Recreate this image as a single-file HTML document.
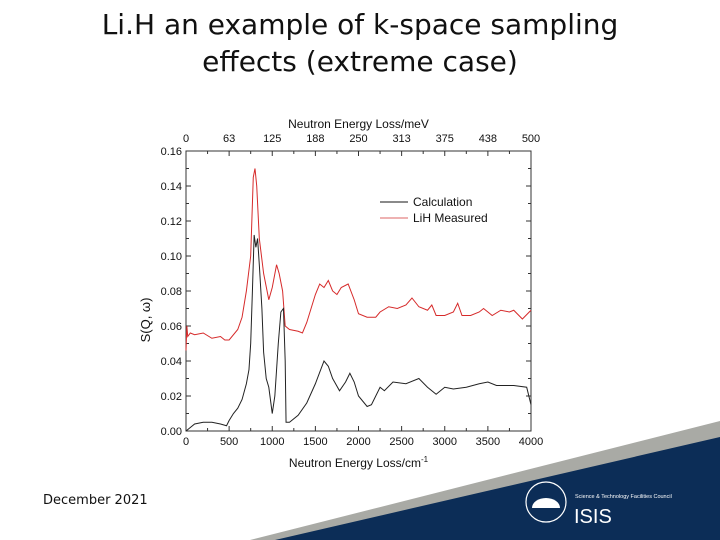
<!DOCTYPE html>
<html><head><meta charset="utf-8"><style>
body{margin:0;width:720px;height:540px;overflow:hidden;background:#fff;font-family:"Liberation Sans",sans-serif;position:relative}
#title{position:absolute;left:0;top:6px;width:720px;text-align:center;font-family:"DejaVu Sans",sans-serif;font-size:28px;line-height:37px;color:#111}
#date{position:absolute;left:43px;top:493px;font-family:"DejaVu Sans",sans-serif;font-size:13px;color:#111}
svg{position:absolute;left:0;top:0}
</style></head><body>
<div id="title">Li.H an example of k-space sampling<br>effects (extreme case)</div>
<div id="date">December 2021</div>
<svg id="chart" width="720" height="540">
<polygon points="250,540 720,421 720,540" fill="#a9aaa5"/>
<polygon points="275,540 720,437 720,540" fill="#0c2d57"/>
<g>
<circle cx="546" cy="502" r="20" fill="none" stroke="#fff" stroke-width="1.2"/>
<path d="M532,508 A14,10 0 0 1 560,508 Z" fill="#fff"/>
<text x="575" y="498" font-size="5.5" fill="#fff">Science &amp; Technology Facilities Council</text>
<text x="574" y="523" font-size="20" fill="#fff">ISIS</text>
</g>
</svg>
<script>
const calcX=[0,50,100,200,300,400,470,500,550,600,650,700,730,750,770,790,810,830,850,880,900,930,960,1000,1030,1070,1100,1130,1150,1160,1200,1300,1400,1500,1600,1650,1700,1780,1850,1900,1950,2000,2100,2150,2250,2300,2400,2550,2700,2800,2900,3000,3100,3250,3400,3500,3600,3700,3800,3950,4000];
const calcY=[0,0.002,0.004,0.005,0.005,0.004,0.003,0.006,0.01,0.013,0.018,0.027,0.035,0.05,0.08,0.112,0.105,0.11,0.095,0.07,0.045,0.03,0.025,0.01,0.02,0.05,0.068,0.07,0.04,0.005,0.005,0.009,0.016,0.027,0.04,0.037,0.03,0.023,0.028,0.033,0.028,0.02,0.014,0.015,0.025,0.023,0.028,0.027,0.03,0.025,0.021,0.025,0.024,0.025,0.027,0.028,0.026,0.026,0.026,0.025,0.015];
const measX=[0,10,20,50,100,200,300,400,450,500,600,650,700,750,780,800,820,850,900,960,1000,1050,1080,1120,1150,1200,1300,1350,1400,1500,1550,1600,1650,1700,1750,1800,1880,1950,2000,2100,2200,2250,2350,2450,2550,2620,2700,2800,2850,2900,3000,3100,3150,3200,3300,3400,3450,3550,3650,3750,3800,3900,4000];
const measY=[0.046,0.06,0.054,0.056,0.055,0.056,0.053,0.054,0.052,0.052,0.058,0.065,0.08,0.1,0.145,0.15,0.14,0.11,0.09,0.075,0.082,0.095,0.09,0.08,0.06,0.058,0.057,0.056,0.062,0.078,0.084,0.082,0.086,0.08,0.078,0.082,0.084,0.075,0.067,0.065,0.065,0.068,0.071,0.07,0.072,0.076,0.071,0.069,0.072,0.066,0.066,0.068,0.073,0.066,0.066,0.068,0.07,0.066,0.069,0.068,0.069,0.064,0.069];
const bottomTicks=[0,500,1000,1500,2000,2500,3000,3500,4000];
const topTicks=["0","63","125","188","250","313","375","438","500"];
const yTicks=[0,0.02,0.04,0.06,0.08,0.10,0.12,0.14,0.16];
const L=186,R=531,T=151,B=431;
const sx=v=>L+(R-L)*v/4000, sy=v=>B-(B-T)*v/0.16;
const svg=document.getElementById('chart'),NS='http://www.w3.org/2000/svg';
function mk(t,a){const e=document.createElementNS(NS,t);for(const k in a)e.setAttribute(k,a[k]);svg.appendChild(e);return e;}
let f=mk('rect',{x:L,y:T,width:R-L,height:B-T,fill:'none',stroke:'#333','stroke-width':1});


bottomTicks.forEach((v,i)=>{const x=sx(v);
 mk('line',{x1:x,x2:x,y1:B,y2:B-5,stroke:'#333'});mk('line',{x1:x,x2:x,y1:T,y2:T+5,stroke:'#333'});
 if(i<8){const xm=sx(v+250);mk('line',{x1:xm,x2:xm,y1:B,y2:B-3,stroke:'#333'});mk('line',{x1:xm,x2:xm,y1:T,y2:T+3,stroke:'#333'});}
 let t=mk('text',{x:x,y:B+14,'font-size':11,'text-anchor':'middle',fill:'#111'});t.textContent=v;
 
 
 let u=mk('text',{x:x,y:T-9,'font-size':11,'text-anchor':'middle',fill:'#111'});u.textContent=topTicks[i];
 
 
});
yTicks.forEach((v,i)=>{const y=sy(v);
 mk('line',{x1:L,x2:L+5,y1:y,y2:y,stroke:'#333'});mk('line',{x1:R,x2:R-5,y1:y,y2:y,stroke:'#333'});
 if(i<8){const ym=sy(v+0.01);mk('line',{x1:L,x2:L+3,y1:ym,y2:ym,stroke:'#333'});mk('line',{x1:R,x2:R-3,y1:ym,y2:ym,stroke:'#333'});}
 let t=mk('text',{x:L-4,y:y+4,'font-size':11,'text-anchor':'end',fill:'#111'});t.textContent=v.toFixed(2);
 
 
});
let a=mk('text',{x:(L+R)/2,y:128,'font-size':12,'text-anchor':'middle',fill:'#111'});a.textContent='Neutron Energy Loss/meV';


let b=mk('text',{x:(L+R)/2,y:467,'font-size':12,'text-anchor':'middle',fill:'#111'});b.innerHTML='Neutron Energy Loss/cm<tspan dy="-5" font-size="8">-1</tspan>';


let c=mk('text',{x:0,y:0,'font-size':13,'text-anchor':'middle',fill:'#111',transform:'translate(150,320) rotate(-90)'});c.textContent='S(Q, ω)';


function line(xs,ys,col,name){const p=mk('polyline',{points:xs.map((x,i)=>sx(x)+','+sy(ys[i])).join(' '),fill:'none',stroke:col,'stroke-width':1});
 
 }
line(measX,measY,'#d62a2a','measured-line');
line(calcX,calcY,'#222','calculation-line');
mk('line',{x1:380,x2:408,y1:202,y2:202,stroke:'#444','stroke-width':1.3});
mk('line',{x1:380,x2:408,y1:218,y2:218,stroke:'#d66','stroke-width':1});
let l1=mk('text',{x:413,y:206,'font-size':12,fill:'#111'});l1.textContent='Calculation';


let l2=mk('text',{x:413,y:222,'font-size':12,fill:'#111'});l2.textContent='LiH Measured';


</script>
</body></html>
